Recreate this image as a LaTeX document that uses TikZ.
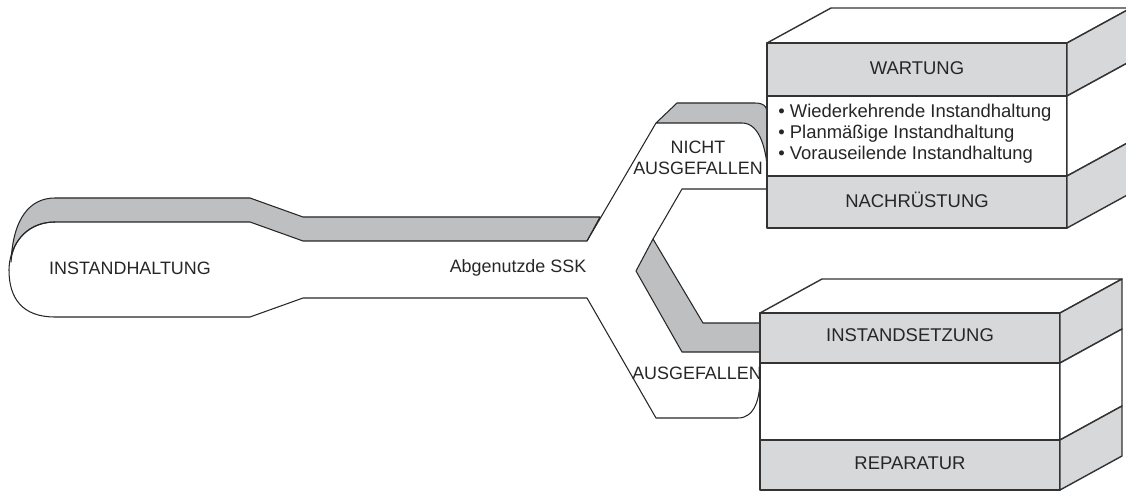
\documentclass[tikz,border=0pt]{standalone}
\usepackage{fontspec}
\setmainfont{Liberation Sans}
\definecolor{tubegray}{RGB}{190,191,193}
\definecolor{bandgray}{RGB}{215,216,218}
\begin{document}
\begin{tikzpicture}[x=0.02cm, y=-0.02cm, line join=round,
  outline/.style={draw=black!85, line width=0.6pt},
  boxline/.style={draw=black!80, line width=0.8pt},
  txt/.style={font=\fontsize{10.2}{11.6}\selectfont, text=black!85, inner sep=0pt}]
\useasboundingbox (0,0) rectangle (1126,493);
\clip (0,0) rectangle (1126,493);
% main tube, grey upper band
\draw[outline, fill=tubegray] (11,262) .. controls (13,218) and (30,198) .. (55,198) -- (250,198) -- (303,217) -- (600,217) -- (587,241) -- (303,241) -- (250,222) -- (55,222) .. controls (30,222) and (12,240) .. (11,262) -- cycle;
% main tube, outline
\draw[outline] (55,222) .. controls (22,222) and (9,250) .. (9,270) .. controls (9,298) and (22,317) .. (55,317) -- (250,317) -- (303,298) -- (587,298) -- (656,418) -- (738,418) .. controls (755,418) and (760,398) .. (760,378);
\draw[outline] (587,241) -- (656,123);
% branch "nicht ausgefallen"
\draw[outline, fill=tubegray] (656,123) -- (677,103) -- (755,103) .. controls (765,103) and (768,108) .. (768,116) -- (768,178) .. controls (767,150) and (760,123) .. (742,123) -- cycle;
\draw[outline] (768,189) -- (682,189) -- (653,239);
% branch "ausgefallen"
\draw[outline, fill=tubegray] (653,239) -- (703,323) -- (760,323) -- (760,352) -- (682,352) -- (636,271) -- cycle;
% upper block
\draw[boxline, fill=white] (767,43) -- (831,8) -- (1131,8) -- (1067,43) -- cycle;
\draw[boxline, fill=bandgray] (767,43) rectangle (1067,96);
\draw[boxline, fill=white] (767,96) rectangle (1067,176);
\draw[boxline, fill=bandgray] (767,176) rectangle (1067,228);
\draw[boxline, fill=bandgray] (1067,43) -- (1131,8) -- (1131,61) -- (1067,96) -- cycle;
\draw[boxline, fill=white] (1067,96) -- (1131,61) -- (1131,141) -- (1067,176) -- cycle;
\draw[boxline, fill=bandgray] (1067,176) -- (1131,141) -- (1131,193) -- (1067,228) -- cycle;
% lower block
\draw[boxline, fill=white] (760,313) -- (822,279) -- (1122,279) -- (1060,313) -- cycle;
\draw[boxline, fill=bandgray] (760,313) rectangle (1060,363);
\draw[boxline, fill=white] (760,363) rectangle (1060,440);
\draw[boxline, fill=bandgray] (760,440) rectangle (1060,490);
\draw[boxline, fill=bandgray] (1060,313) -- (1122,279) -- (1122,329) -- (1060,363) -- cycle;
\draw[boxline, fill=white] (1060,363) -- (1122,329) -- (1122,406) -- (1060,440) -- cycle;
\draw[boxline, fill=bandgray] (1060,440) -- (1122,406) -- (1122,456) -- (1060,490) -- cycle;
% texts
\node[txt] (ih) at (130,268) {INSTANDHALTUNG};
\node[txt] (ssk) at (518,268) {Abgenutzde SSK};
\node[txt, align=center] (nicht) at (698,158) {NICHT\\AUSGEFALLEN};
\node[txt] (ausg) at (697,373) {AUSGEFALLEN};
\node[txt, font=\fontsize{10.5}{12}\selectfont] (wart) at (917,68) {WARTUNG};
\node[txt, align=left, anchor=west, font=\fontsize{10.5}{12}\selectfont] (list) at (778,134) {• Wiederkehrende Instandhaltung\\• Planmäßige Instandhaltung\\• Vorauseilende Instandhaltung};
\node[txt, font=\fontsize{10.5}{12}\selectfont] (nach) at (917,200) {NACHRÜSTUNG};
\node[txt, font=\fontsize{10.5}{12}\selectfont] (inst) at (910,335) {INSTANDSETZUNG};
\node[txt, font=\fontsize{10.5}{12}\selectfont] (rep) at (910,463) {REPARATUR};
\end{tikzpicture}
\end{document}
